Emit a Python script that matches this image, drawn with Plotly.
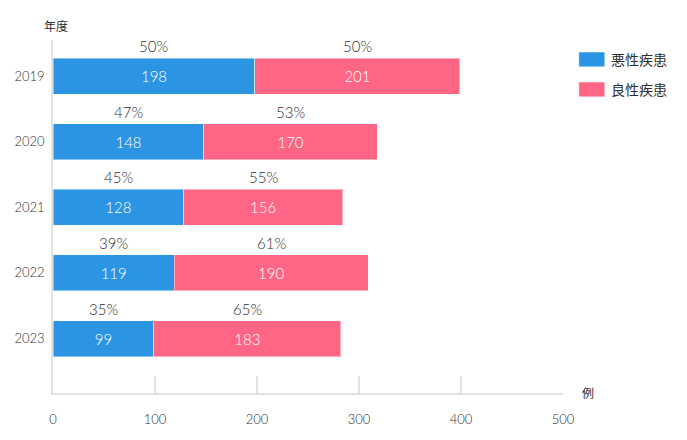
import plotly.graph_objects as go

years = ["2019", "2020", "2021", "2022", "2023"]
malignant = [198, 148, 128, 119, 99]
benign = [201, 170, 156, 190, 183]
malignant_pct = ["50%", "47%", "45%", "39%", "35%"]
benign_pct = ["50%", "53%", "55%", "61%", "65%"]
series_names = ["悪性疾患", "良性疾患"]
x_ticks = [0, 100, 200, 300, 400, 500]

BLUE = "#2B95E3"
PINK = "#FF6685"
FONT = "Lato, Noto Sans CJK JP"
TXT = "#2e2e2e"
W = 300

fig = go.Figure()
for vals, color, name in [(malignant, BLUE, series_names[0]), (benign, PINK, series_names[1])]:
    fig.add_trace(go.Bar(
        y=years, x=vals, orientation="h", name=name,
        marker=dict(color=color, line=dict(color="rgba(255,255,255,0.45)", width=1)),
        text=[str(v) for v in vals], textposition="inside", insidetextanchor="middle",
        textfont=dict(color="white", size=15, family=FONT, weight=W),
        showlegend=False, hoverinfo="skip",
    ))

annotations = []
for i, y in enumerate(years):
    m, b = malignant[i], benign[i]
    annotations.append(dict(x=m / 2, y=i, xref="x", yref="y", text=malignant_pct[i],
                            showarrow=False, yshift=30, font=dict(size=15, color=TXT, family=FONT, weight=W)))
    annotations.append(dict(x=m + b / 2, y=i, xref="x", yref="y", text=benign_pct[i],
                            showarrow=False, yshift=30, font=dict(size=15, color=TXT, family=FONT, weight=W)))

annotations.append(dict(x=0.006, y=1.0, xref="paper", yref="paper", yshift=14, xanchor="center", yanchor="middle",
                        text="年度", showarrow=False, font=dict(size=12, color=TXT, family=FONT)))
annotations.append(dict(x=1.049, y=0, xref="paper", yref="paper", xanchor="center", yanchor="middle",
                        text="例", showarrow=False, font=dict(size=12, color=TXT, family=FONT)))

# legend drawn manually (paper coords)
shapes = []
legend_y = [0.945, 0.860]
for name, color, ly in zip(series_names, [BLUE, PINK], legend_y):
    shapes.append(dict(type="rect", xref="paper", yref="paper",
                       x0=1.031, x1=1.082, y0=ly - 0.021, y1=ly + 0.021,
                       fillcolor=color, line=dict(color="rgba(255,255,255,0.5)", width=1)))
    annotations.append(dict(x=1.09, y=ly, xref="paper", yref="paper", xanchor="left", yanchor="middle",
                            text=name, showarrow=False, font=dict(size=14, color=TXT, family=FONT)))

fig.update_layout(
    barmode="stack", bargap=0.45,
    width=687, height=440,
    margin=dict(l=45, r=132, t=32, b=55),
    paper_bgcolor="white", plot_bgcolor="white",
    font=dict(family=FONT, color=TXT, size=13),
    annotations=annotations, shapes=shapes,
    xaxis=dict(range=[0, 500], tickvals=x_ticks, showgrid=False, zeroline=False, automargin=False,
               showline=True, linecolor="#e2e2e2", linewidth=1.5,
               ticks="inside", ticklen=17, tickcolor="#e2e2e2", tickwidth=1.5,
               ticklabelstandoff=14, tickfont=dict(size=13, color=TXT, family=FONT, weight=W)),
    yaxis=dict(type="category", categoryorder="array", categoryarray=years, automargin=False,
               range=[4.83, -0.55], showgrid=False, zeroline=False,
               showline=True, linecolor="#e2e2e2", linewidth=1.5, ticks="",
               ticklabelstandoff=4, tickfont=dict(size=13, color=TXT, family=FONT, weight=W)),
)

fig.write_html("out.html")
